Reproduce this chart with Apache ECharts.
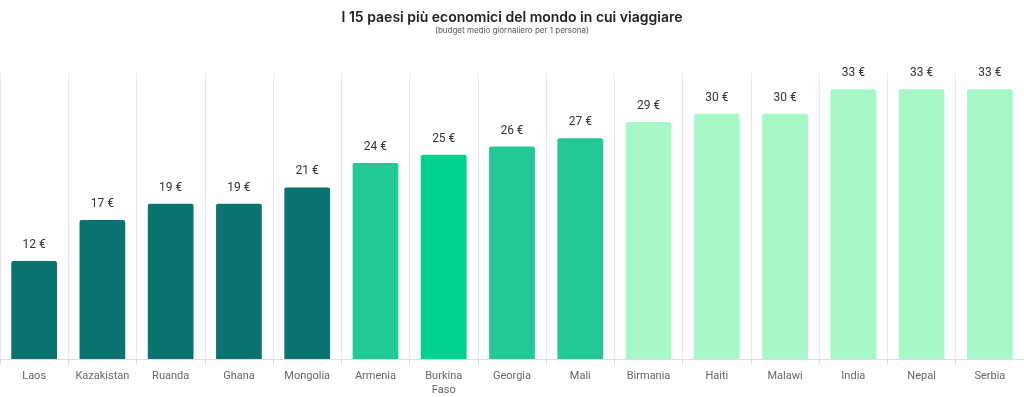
<!DOCTYPE html>
<html>
<head>
<meta charset="utf-8">
<script src="https://cdn.jsdelivr.net/npm/echarts@6/dist/echarts.min.js"></script>
<style>
  html, body { margin: 0; padding: 0; background: #fff; }
  #chart { width: 1024px; height: 397px; }
</style>
</head>
<body>
<div id="chart"></div>
<script>
// dati
var paesi = ['Laos', 'Kazakistan', 'Ruanda', 'Ghana', 'Mongolia', 'Armenia', 'Burkina\nFaso',
  'Georgia', 'Mali', 'Birmania', 'Haiti', 'Malawi', 'India', 'Nepal', 'Serbia']
var budget = [12, 17, 19, 19, 21, 24, 25, 26, 27, 29, 30, 30, 33, 33, 33]
var gruppo = [0, 0, 0, 0, 0, 1, 2, 1, 1, 3, 3, 3, 3, 3, 3]
var colori = ['#0b7370', '#22c896', '#00d18f', '#a6f8c7']

var chart = echarts.init(document.getElementById('chart'))

chart.setOption({
  animation: false,
  title: {
    text: 'I 15 paesi più economici del mondo in cui viaggiare',
    subtext: '(budget medio giornaliero per 1 persona)',
    left: 'center',
    top: 6,
    itemGap: 2,
    textStyle: {
      fontFamily: 'Inter',
      fontSize: 14,
      fontWeight: 600,
      color: '#222'
    },
    subtextStyle: {
      fontFamily: 'Inter',
      fontSize: 8,
      color: '#555'
    }
  },
  grid: {
    left: 0,
    right: 0,
    top: 73,
    bottom: 38
  },
  xAxis: {
    type: 'category',
    data: paesi,
    axisLine: { lineStyle: { color: '#dddddd' } },
    axisTick: { show: true, interval: 0, length: 6, lineStyle: { color: '#dddddd' } },
    splitLine: { show: true, interval: 0, lineStyle: { color: '#e8e8e8' } },
    axisLabel: {
      interval: 0,
      color: '#666',
      fontSize: 11,
      fontFamily: 'Roboto',
      margin: 10,
      lineHeight: 14
    }
  },
  yAxis: {
    type: 'value',
    min: 0,
    max: 35,
    show: false
  },
  series: [{
    name: 'budget',
    type: 'bar',
    barCategoryGap: '33%',
    data: budget.map(function (v, i) {
      return { value: v, itemStyle: { color: colori[gruppo[i]] } }
    }),
    itemStyle: { borderRadius: [2, 2, 0, 0] },
    label: {
      show: true,
      position: 'top',
      distance: 10,
      formatter: '{c} €',
      color: '#333',
      fontSize: 12,
      fontFamily: 'Roboto'
    }
  }]
})
</script>
</body>
</html>
